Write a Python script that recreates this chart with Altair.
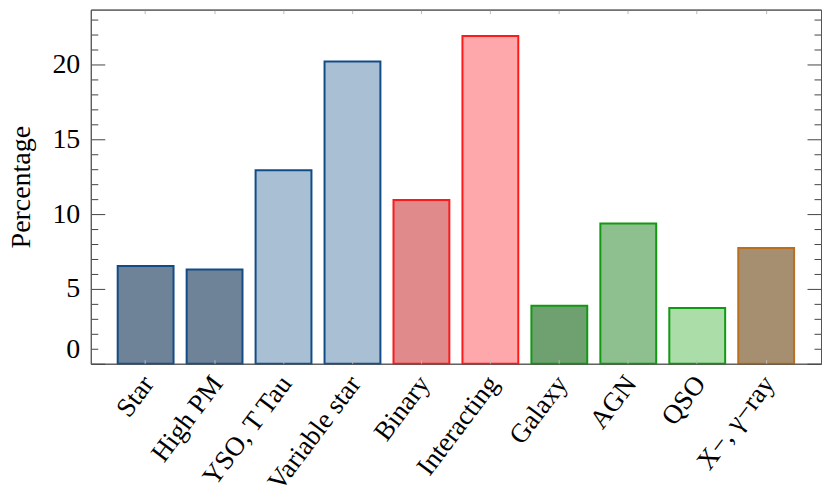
import altair as alt
import pandas as pd

categories = ["Star", "High PM", "YSO, T Tau", "Variable star", "Binary",
              "Interacting", "Galaxy", "AGN", "QSO", "X\u2212, \u03b3\u2212ray"]
values = [6.53, 6.3, 12.93, 20.2, 10.95, 21.9, 3.87, 9.38, 3.73, 7.73]
fills = ["#6E8398", "#6E8398", "#A9BFD4", "#A9BFD4", "#E08A8C",
         "#FFA8AB", "#6EA16F", "#8DC08E", "#ABDDA8", "#A68F70"]
strokes = ["#124C86", "#124C86", "#124C86", "#124C86", "#FF1A1A",
           "#FF1A1A", "#129912", "#129912", "#129912", "#B8701E"]
y_ticks = list(range(0, 24))

df = pd.DataFrame({"category": categories, "value": values,
                   "fill": fills, "stroke": strokes})

FONT = "Liberation Serif, Times New Roman, serif"
FRAME = "#555555"
ysize = alt.ExprRef("datum.value % 5 === 0 ? -14 : -7")
xsize = alt.ExprRef("-4")

xscale = alt.Scale(domain=categories, paddingInner=0.19, paddingOuter=0.39)
yscale = alt.Scale(domain=[0, 23.67], nice=False, zero=True)

bars = alt.Chart(df).mark_bar(strokeWidth=2).encode(
    x=alt.X("category:N", sort=categories, scale=xscale,
            axis=alt.Axis(orient="bottom", title=None, labelAngle=-53,
                          labelAlign="right", labelBaseline="middle",
                          labelFont=FONT, labelFontSize=27, labelColor="black",
                          labelPadding=19, labelOffset=3,
                          tickSize=xsize, tickColor="#bbbbbb",
                          domain=True, domainColor=FRAME, zindex=1)),
    y=alt.Y("value:Q", scale=yscale,
            axis=alt.Axis(orient="left", values=y_ticks,
                          labelExpr="datum.value % 5 === 0 ? datum.label : ''",
                          labelFont=FONT, labelFontSize=28, labelColor="black",
                          labelPadding=25, labelFlush=True,
                          tickSize=ysize, tickColor="#444444", grid=False,
                          domain=True, domainColor=FRAME, zindex=1,
                          title="Percentage", titleFont=FONT, titleFontSize=28,
                          titleFontWeight="normal", titleColor="black",
                          titlePadding=16)),
    fill=alt.Color("fill:N", scale=None),
    stroke=alt.Color("stroke:N", scale=None),
)

mirror = alt.Chart(df).mark_bar(opacity=0).encode(
    x=alt.X("category:N", sort=categories, scale=xscale,
            axis=alt.Axis(orient="top", title=None, labels=False,
                          tickSize=xsize, tickColor="#bbbbbb",
                          domain=True, domainColor=FRAME, zindex=1)),
    y=alt.Y("value:Q", scale=yscale,
            axis=alt.Axis(orient="right", values=y_ticks, labels=False,
                          tickSize=ysize, tickColor="#444444", grid=False,
                          domain=True, domainColor=FRAME, zindex=1,
                          title=None)),
)

chart = alt.layer(bars, mirror).resolve_axis(
    x="independent", y="independent"
).properties(
    width=732, height=355,
    padding={"left": 0, "top": 0, "right": 0, "bottom": 0},
).configure_view(stroke=FRAME, strokeWidth=1)

chart.save("out.html", embed_options={"renderer": "svg", "actions": False})
